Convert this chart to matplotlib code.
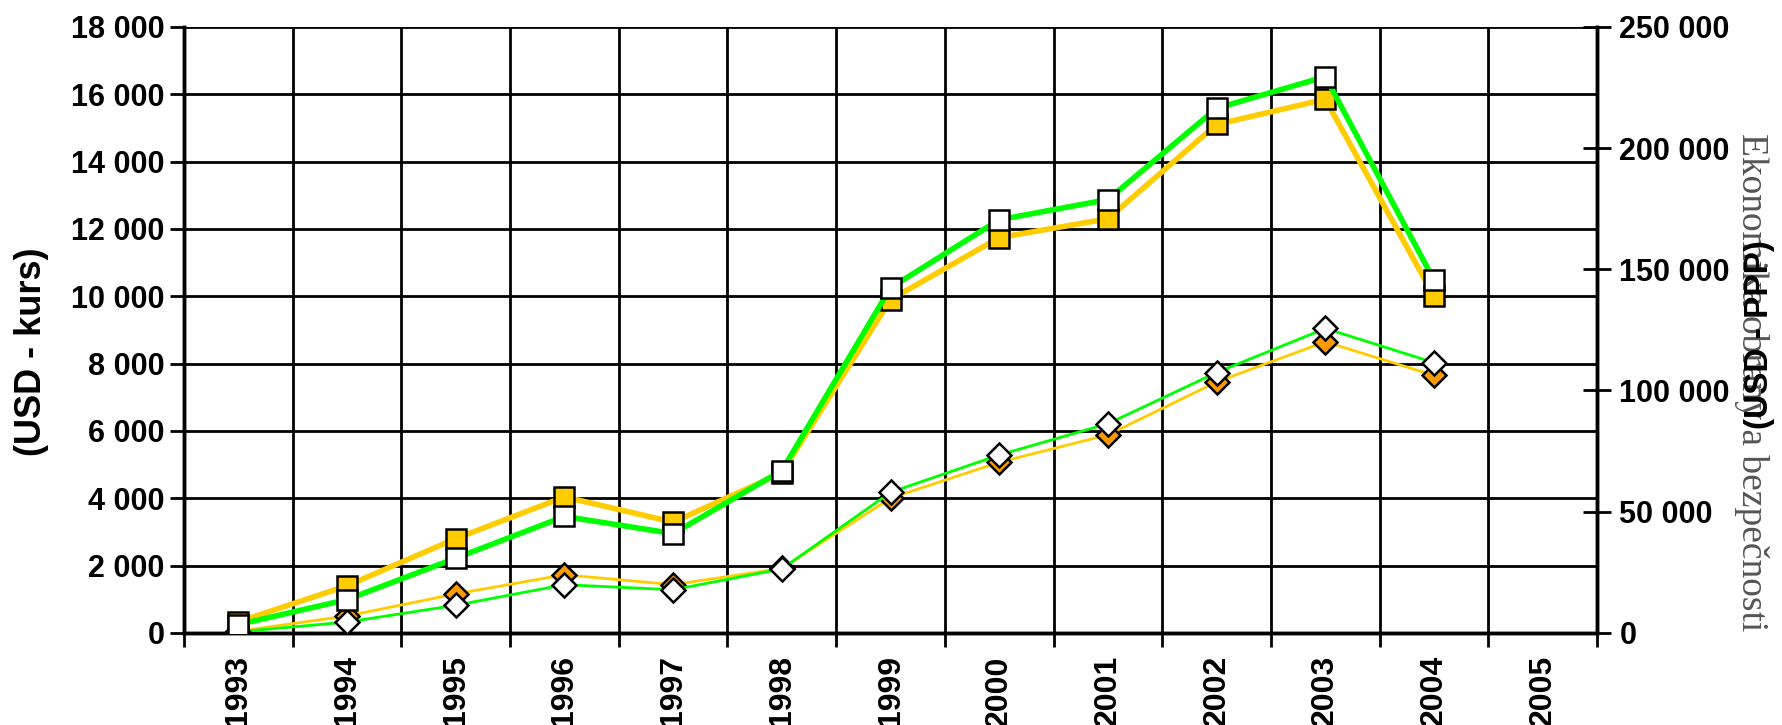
import numpy as np
import matplotlib.pyplot as plt
from matplotlib.ticker import FixedLocator, FuncFormatter

years = ["1993", "1994", "1995", "1996", "1997", "1998", "1999",
         "2000", "2001", "2002", "2003", "2004", "2005"]

# left axis (USD - kurs), squares
kurs_a = [330, 1400, 2800, 4040, 3290, 4750, 9900, 11740, 12300, 15100, 15850, 10000]
kurs_b = [250, 990, 2220, 3460, 2950, 4820, 10250, 12270, 12870, 15580, 16520, 10480]
# right axis (USD - PPP), diamonds
ppp_a = [700, 7000, 16100, 24000, 19900, 26600, 55600, 70400, 81700, 103500, 120100, 106200]
ppp_b = [450, 4500, 11400, 19900, 17800, 26400, 58000, 73400, 86300, 107400, 125600, 111500]

GOLD = "#FFCC00"
GREEN = "#00FF00"
ORANGE = "#FF9900"

plt.rcParams["font.family"] = ["Liberation Sans", "DejaVu Sans"]
plt.rcParams["font.weight"] = "bold"

fig = plt.figure(figsize=(17.83, 7.25), dpi=100)
ax = fig.add_axes([0.1032, 0.127, 0.7925, 0.836])
ax2 = ax.twinx()

x = np.arange(len(kurs_a)) + 0.5
scale = 250000 / 18000  # squares belong to the left axis

ax2.plot(x, ppp_a, color=GOLD, lw=2.0, marker="D", ms=12, mfc=ORANGE,
         mec="black", mew=1.8, zorder=3)
ax2.plot(x, ppp_b, color=GREEN, lw=2.0, marker="D", ms=12, mfc="white",
         mec="black", mew=1.8, zorder=4)
ax2.plot(x, np.array(kurs_a) * scale, color=GOLD, lw=4.0, marker="s", ms=14,
         mfc=GOLD, mec="black", mew=1.8, zorder=5)
ax2.plot(x, np.array(kurs_b) * scale, color=GREEN, lw=4.0, marker="s", ms=14,
         mfc="white", mec="black", mew=1.8, zorder=6)

ax.set_xlim(0, len(years))
ax.set_ylim(0, 18000)
ax2.set_ylim(0, 250000)

ax.set_yticks(np.arange(0, 18001, 2000))
ax2.set_yticks(np.arange(0, 250001, 50000))
fmt = FuncFormatter(lambda v, p: f"{int(v):,}".replace(",", " "))
ax.yaxis.set_major_formatter(fmt)
ax2.yaxis.set_major_formatter(fmt)

ax.xaxis.set_major_locator(FixedLocator(np.arange(0, len(years) + 1)))
ax.xaxis.set_minor_locator(FixedLocator(np.arange(len(years)) + 0.5))
ax.set_xticklabels([], minor=False)
ax.set_xticklabels(years, minor=True, rotation=90, fontsize=23, fontweight="bold")
ax.tick_params(axis="x", which="minor", length=0, pad=16)
ax.tick_params(axis="x", which="major", direction="out", length=10, width=2)
ax.tick_params(axis="y", direction="out", length=10, width=2, labelsize=22, pad=4)
ax2.tick_params(axis="y", direction="inout", length=20, width=2, labelsize=22, pad=6)

ax.grid(True, which="major", color="black", lw=2)
ax.set_axisbelow(True)

for a in (ax, ax2):
    a.spines["top"].set_visible(False)
    a.spines["left"].set_linewidth(2.5)
    a.spines["right"].set_linewidth(2.5)
    a.spines["bottom"].set_linewidth(2.5)

fig.text(0.0174, 0.515, "(USD - kurs)", rotation=90, ha="center", va="center",
         fontsize=26, fontweight="bold")
fig.text(0.9825, 0.473, "Ekonomika obrany a bezpečnosti", rotation=270,
         ha="center", va="center", fontsize=27, fontweight="normal",
         family=["Liberation Serif", "DejaVu Serif"], color="#555555")
fig.text(0.9866, 0.538, "(USD - PPP)", rotation=90, ha="center", va="center",
         fontsize=24, fontweight="bold")

fig.savefig("out.png", dpi=100)
